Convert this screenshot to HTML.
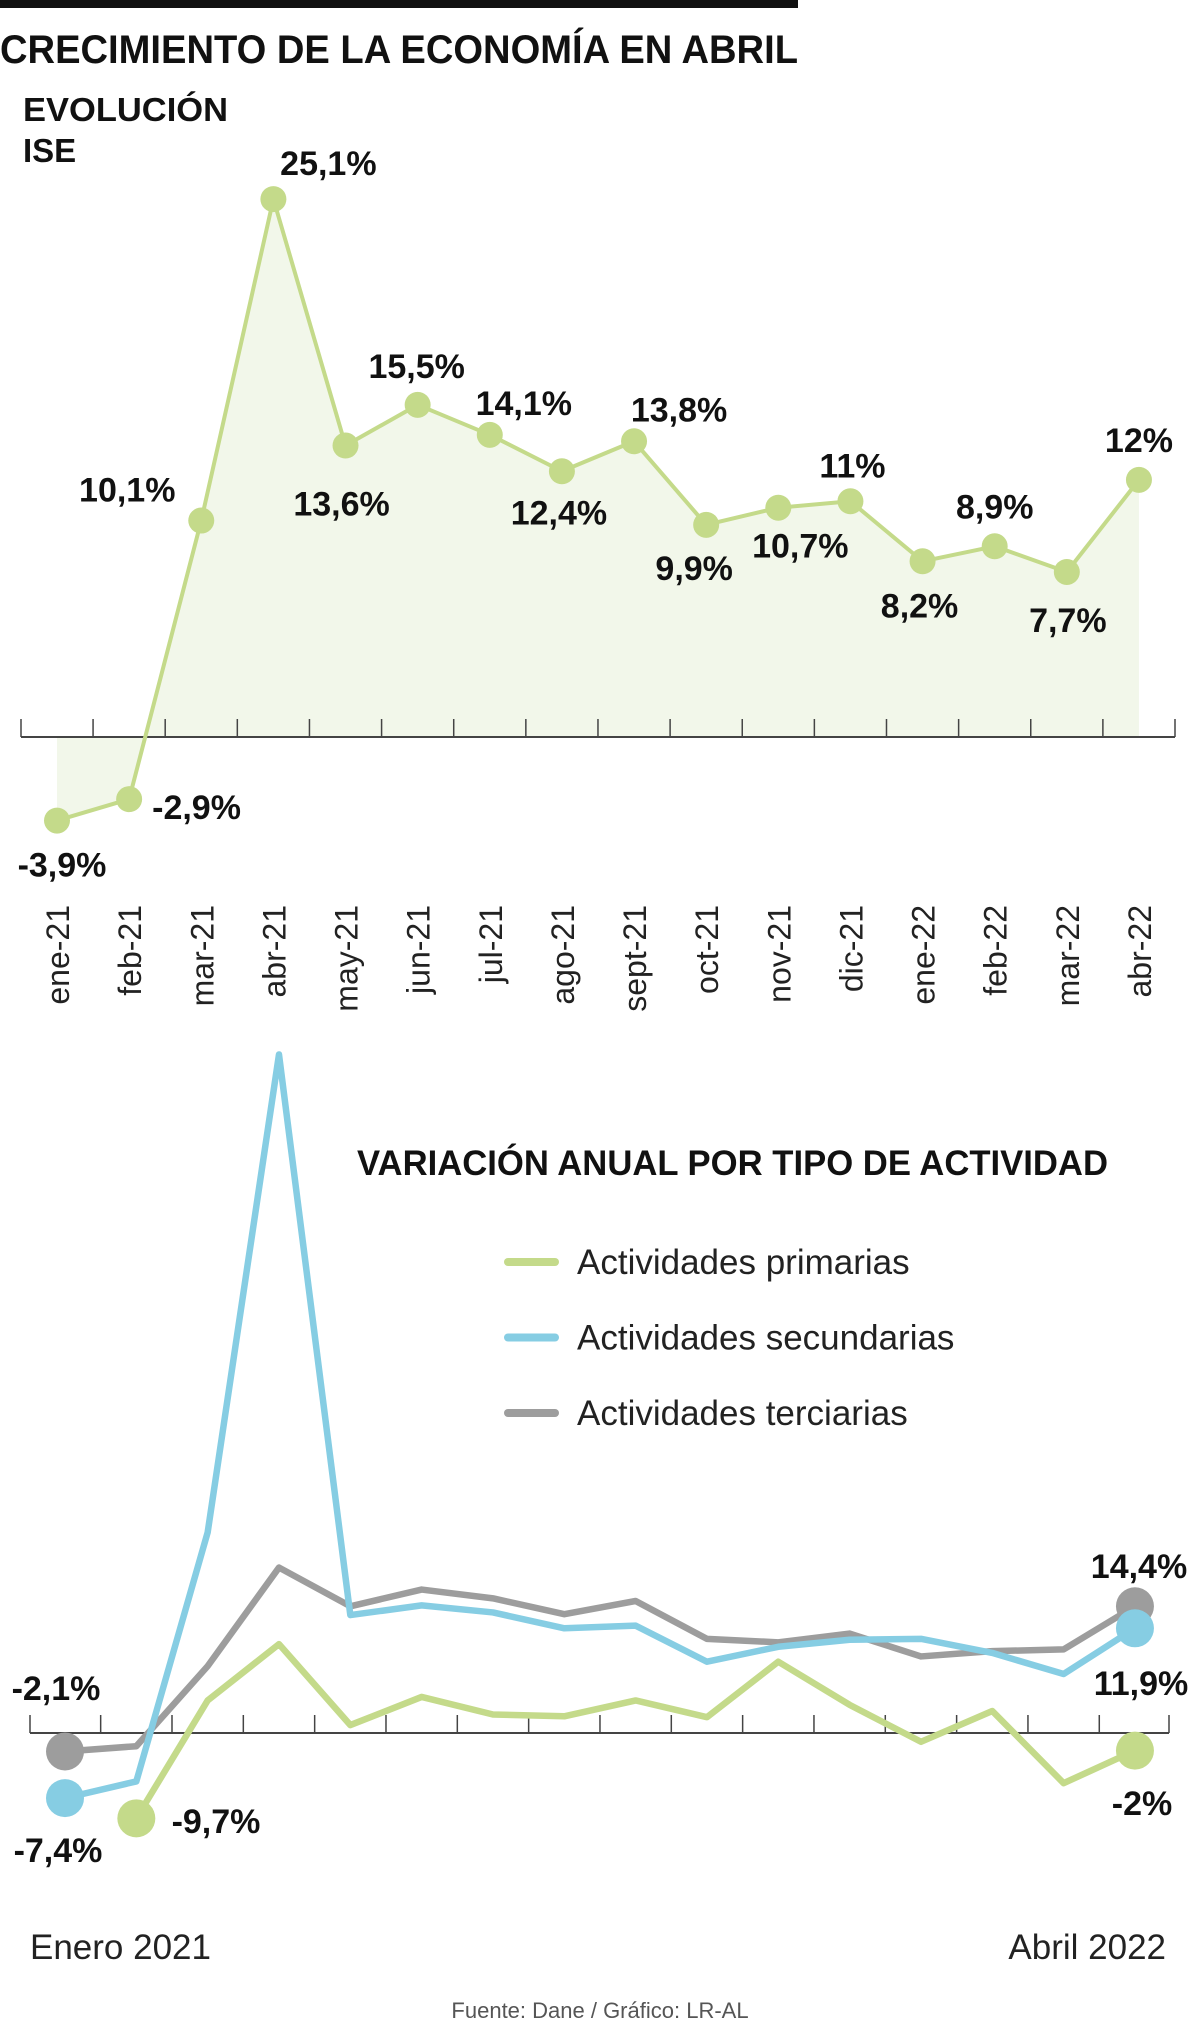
<!DOCTYPE html>
<html><head><meta charset="utf-8"><style>
html,body{margin:0;padding:0;background:#fff;}
svg{display:block;font-family:"Liberation Sans",sans-serif;}
</style></head><body>
<svg id="c" width="1200" height="2024" viewBox="0 0 1200 2024">
<rect x="0" y="0" width="798" height="8" fill="#111"/>
<text x="0" y="63" font-size="40" font-weight="bold" fill="#111" textLength="798" lengthAdjust="spacingAndGlyphs">CRECIMIENTO DE LA ECONOMÍA EN ABRIL</text>
<text x="23" y="121" font-size="33" font-weight="bold" fill="#111" textLength="205" lengthAdjust="spacingAndGlyphs">EVOLUCIÓN</text>
<text x="23" y="162" font-size="33" font-weight="bold" fill="#111">ISE</text>
<g id="topchart"></g>
<text x="357" y="1175" font-size="35" font-weight="bold" fill="#111" textLength="751" lengthAdjust="spacingAndGlyphs">VARIACIÓN ANUAL POR TIPO DE ACTIVIDAD</text>
<g id="botchart"></g>
<text x="30" y="1959" font-size="35" fill="#222">Enero 2021</text>
<text x="1166" y="1959" font-size="35" fill="#222" text-anchor="end">Abril 2022</text>
<text x="600" y="2018" font-size="22" fill="#555" text-anchor="middle">Fuente: Dane / Gráfico: LR-AL</text>
</svg>
<script>
const months = ["ene-21","feb-21","mar-21","abr-21","may-21","jun-21","jul-21","ago-21","sept-21","oct-21","nov-21","dic-21","ene-22","feb-22","mar-22","abr-22"];
const iseValues = [-3.9,-2.9,10.1,25.1,13.6,15.5,14.1,12.4,13.8,9.9,10.7,11,8.2,8.9,7.7,12];
const iseLabels = ["-3,9%","-2,9%","10,1%","25,1%","13,6%","15,5%","14,1%","12,4%","13,8%","9,9%","10,7%","11%","8,2%","8,9%","7,7%","12%"];
const primarias = [null,-9.7,3.7,10.1,0.9,4.1,2.1,1.9,3.7,1.8,8.1,3.2,-1.0,2.5,-5.7,-2.0];
const secundarias = [-7.4,-5.5,22.8,77.1,13.4,14.5,13.7,11.9,12.2,8.1,9.8,10.6,10.7,9.1,6.7,11.9];
const terciarias = [-2.1,-1.5,7.6,18.8,14.4,16.3,15.3,13.5,15.0,10.7,10.3,11.3,8.7,9.3,9.5,14.4];
const legendNames = ["Actividades primarias","Actividades secundarias","Actividades terciarias"];

const NS="http://www.w3.org/2000/svg";
function mk(parent,tag,attrs,txt){const e=document.createElementNS(NS,tag);for(const k in attrs)e.setAttribute(k,attrs[k]);if(txt!==undefined)e.textContent=txt;parent.appendChild(e);return e;}

// ---- top chart ----
const tg=document.getElementById('topchart');
const tx=i=>57+i*72.13;
const ty=v=>737-v*21.43;
const GREEN="#c4da8a";
let area="M"+tx(0)+","+ty(0);
iseValues.forEach((v,i)=>{area+=" L"+tx(i)+","+ty(v);});
area+=" L"+tx(iseValues.length-1)+","+ty(0)+" Z";
const ar=mk(tg,'path',{d:area,fill:"#f2f7ea"});


const ax=mk(tg,'line',{x1:21,y1:737,x2:1175,y2:737,stroke:"#444","stroke-width":2});


const tickXs=[21];
for(let i=0;i<months.length-1;i++)tickXs.push((tx(i)+tx(i+1))/2);
tickXs.push(1175);
tickXs.forEach(x=>{const t=mk(tg,'line',{x1:x,y1:737,x2:x,y2:719,stroke:"#444","stroke-width":1.5});

});
const pts=iseValues.map((v,i)=>tx(i)+","+ty(v)).join(" ");
const ln=mk(tg,'polyline',{points:pts,fill:"none",stroke:GREEN,"stroke-width":4,"stroke-linejoin":"round"});


const lblOff=[[5,44],[23,8],[-74,-31],[55,-36],[-4,58],[-1,-39],[34,-32],[-3,41],[45,-32],[-12,43],[22,38],[2,-36],[-3,44],[0,-40],[1,48],[0,-40]];
iseValues.forEach((v,i)=>{
  const c=mk(tg,'circle',{cx:tx(i),cy:ty(v),r:13,fill:GREEN});
  
  
  const anchor = i===1?"start":"middle";
  const t=mk(tg,'text',{x:tx(i)+lblOff[i][0],y:ty(v)+lblOff[i][1]+12,"font-size":34,"font-weight":"bold",fill:"#111","text-anchor":anchor},iseLabels[i]);
  
  
  const m=mk(tg,'text',{x:0,y:0,"font-size":32,fill:"#222","text-anchor":"end",transform:"translate("+(tx(i)+12)+",905) rotate(-90)"},months[i]);
  
  
});

// ---- bottom chart ----
const bg=document.getElementById('botchart');
const bx=i=>65+i*71.33;
const by=v=>1733-v*8.8;
const bax=mk(bg,'line',{x1:30,y1:1733,x2:1169,y2:1733,stroke:"#444","stroke-width":2});


const bt=[30];for(let i=0;i<months.length-1;i++)bt.push((bx(i)+bx(i+1))/2);bt.push(1169);
bt.forEach(x=>{const t=mk(bg,'line',{x1:x,y1:1733,x2:x,y2:1715,stroke:"#444","stroke-width":1.5});

});
const series=[[terciarias,"#9d9d9d","terciarias"],[secundarias,"#86cde3","secundarias"],[primarias,"#c4da8a","primarias"]];
series.forEach(([arr,col,nm])=>{
  const p=[];arr.forEach((v,i)=>{if(v!==null)p.push(bx(i)+","+by(v));});
  const l=mk(bg,'polyline',{points:p.join(" "),fill:"none",stroke:col,"stroke-width":6.5,"stroke-linejoin":"round"});
  
  
  const first=arr.findIndex(v=>v!==null), last=arr.length-1;
  [first,last].forEach(i=>{const c=mk(bg,'circle',{cx:bx(i),cy:by(arr[i]),r:19,fill:col});
    
    });
});
const endLabels=[["-2,1%",56,1700],["-7,4%",58,1862],["-9,7%",216,1833],["14,4%",1139,1578],["11,9%",1141,1695],["-2%",1142,1815]];
endLabels.forEach(([t,x,y])=>{const e=mk(bg,'text',{x:x,y:y,"font-size":34,"font-weight":"bold",fill:"#111","text-anchor":"middle"},t);
  
  });
const legCols=["#c4da8a","#86cde3","#9d9d9d"];
legendNames.forEach((n,i)=>{
  const y=1262+i*75.5;
  const l=mk(bg,'line',{x1:508,y1:y,x2:555,y2:y,stroke:legCols[i],"stroke-width":8,"stroke-linecap":"round"});
  
  
  const t=mk(bg,'text',{x:577,y:y+12,"font-size":35,fill:"#222"},n);
  
  
});
</script>
</body></html>
